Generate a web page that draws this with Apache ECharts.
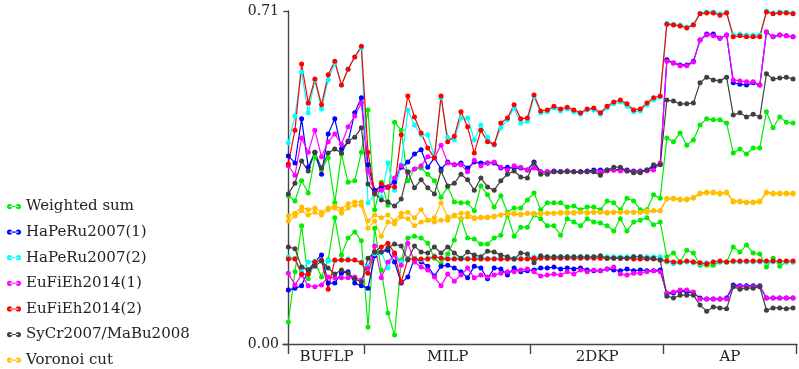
<!DOCTYPE html>
<html>
<head>
<meta charset="utf-8">
<script src="https://cdn.jsdelivr.net/npm/echarts@6/dist/echarts.min.js"></script>
<style>
  html, body { margin: 0; padding: 0; background: #fff; }
  #chart { width: 799px; height: 369px; }
</style>
</head>
<body>
<div id="chart"></div>
<script>
// instance groups and how many instances each holds
const groupNames = ['BUFLP', 'MILP', '2DKP', 'AP']
const groupSizes = [12, 25, 20, 20]
const yTicks = [0, 0.71]

// each method has two curves (upper / lower), 77 instances each
const weightedHi = [
  0.316,0.305,0.348,0.322,0.399,0.371,0.397,0.301,0.405,0.345,0.348,0.409,
  0.499,0.286,0.345,0.296,0.473,0.456,0.348,0.373,0.375,0.362,0.348,0.313,0.335,0.303,0.301,0.301,0.284,0.337,0.318,0.292,0.316,0.281,0.290,0.290,0.307,
  0.322,0.286,0.301,0.301,0.301,0.292,0.294,0.286,0.292,0.292,0.286,0.305,0.301,0.286,0.311,0.305,0.286,0.286,0.318,0.311,
  0.439,0.431,0.450,0.424,0.435,0.467,0.480,0.478,0.478,0.471,0.407,0.416,0.405,0.418,0.418,0.495,0.461,0.484,0.473,0.471
]
const weightedLo = [
  0.047,0.154,0.252,0.139,0.175,0.143,0.179,0.269,0.190,0.226,0.239,0.220,
  0.036,0.247,0.158,0.066,0.019,0.179,0.226,0.230,0.226,0.215,0.183,0.171,0.192,0.222,0.267,0.226,0.224,0.213,0.213,0.226,0.232,0.275,0.230,0.249,0.249,
  0.275,0.267,0.252,0.252,0.232,0.267,0.260,0.252,0.267,0.260,0.258,0.252,0.241,0.267,0.241,0.260,0.264,0.269,0.254,0.260,
  0.186,0.194,0.175,0.200,0.194,0.168,0.168,0.168,0.175,0.175,0.207,0.196,0.211,0.194,0.192,0.164,0.183,0.166,0.175,0.175
]
const hapeRu1Hi = [
  0.401,0.386,0.480,0.377,0.409,0.362,0.448,0.480,0.416,0.431,0.493,0.525,
  0.382,0.328,0.335,0.335,0.345,0.377,0.388,0.405,0.414,0.377,0.397,0.373,0.388,0.382,0.386,0.375,0.388,0.386,0.386,0.386,0.375,0.377,0.375,0.375,0.371,
  0.388,0.367,0.367,0.369,0.367,0.369,0.367,0.367,0.369,0.371,0.371,0.371,0.371,0.373,0.371,0.369,0.369,0.371,0.377,0.384,
  0.606,0.599,0.595,0.595,0.603,0.648,0.661,0.661,0.652,0.659,0.557,0.554,0.552,0.557,0.552,0.665,0.655,0.659,0.657,0.655
]
const hapeRu1Lo = [
  0.115,0.119,0.124,0.158,0.175,0.190,0.130,0.130,0.151,0.154,0.130,0.124,
  0.119,0.188,0.196,0.200,0.175,0.130,0.143,0.183,0.175,0.166,0.145,0.166,0.168,0.162,0.154,0.141,0.166,0.162,0.139,0.162,0.160,0.147,0.162,0.154,0.156,
  0.158,0.162,0.162,0.164,0.160,0.162,0.160,0.162,0.158,0.156,0.156,0.160,0.158,0.156,0.160,0.156,0.158,0.156,0.156,0.158,
  0.107,0.109,0.113,0.111,0.109,0.098,0.096,0.096,0.096,0.098,0.126,0.124,0.124,0.124,0.124,0.098,0.098,0.098,0.098,0.098
]
const hapeRu2Hi = [
  0.429,0.486,0.580,0.493,0.563,0.501,0.563,0.599,0.552,0.586,0.612,0.631,
  0.301,0.318,0.313,0.386,0.328,0.382,0.499,0.467,0.446,0.446,0.399,0.525,0.441,0.435,0.482,0.482,0.435,0.467,0.441,0.424,0.461,0.478,0.503,0.471,0.475,
  0.527,0.493,0.495,0.503,0.497,0.501,0.495,0.490,0.499,0.499,0.490,0.503,0.512,0.516,0.507,0.495,0.497,0.510,0.520,0.527,
  0.684,0.682,0.680,0.676,0.682,0.706,0.708,0.708,0.704,0.708,0.659,0.661,0.659,0.659,0.659,0.710,0.706,0.708,0.708,0.706
]
const hapeRu2Lo = [
  0.186,0.183,0.154,0.175,0.177,0.177,0.177,0.177,0.179,0.181,0.179,0.175,
  0.166,0.192,0.196,0.162,0.194,0.175,0.183,0.183,0.179,0.183,0.188,0.183,0.183,0.183,0.183,0.183,0.183,0.183,0.183,0.183,0.183,0.183,0.183,0.183,0.183,
  0.186,0.186,0.186,0.186,0.186,0.186,0.186,0.186,0.186,0.186,0.186,0.186,0.186,0.186,0.186,0.186,0.186,0.186,0.186,0.186,
  0.175,0.171,0.173,0.175,0.173,0.171,0.173,0.175,0.175,0.175,0.175,0.175,0.175,0.175,0.175,0.175,0.175,0.175,0.175,0.175
]
const euFiEh1Hi = [
  0.380,0.360,0.439,0.409,0.456,0.399,0.431,0.448,0.426,0.463,0.486,0.514,
  0.367,0.322,0.328,0.333,0.354,0.380,0.365,0.373,0.380,0.399,0.397,0.424,0.386,0.382,0.382,0.367,0.392,0.380,0.386,0.388,0.377,0.371,0.380,0.377,0.371,
  0.375,0.367,0.367,0.367,0.367,0.369,0.367,0.367,0.367,0.367,0.367,0.369,0.371,0.369,0.369,0.367,0.367,0.369,0.371,0.386,
  0.603,0.599,0.593,0.593,0.601,0.648,0.659,0.657,0.652,0.659,0.563,0.561,0.559,0.559,0.552,0.665,0.655,0.659,0.657,0.655
]
const euFiEh1Lo = [
  0.151,0.126,0.147,0.124,0.122,0.126,0.143,0.141,0.141,0.141,0.143,0.136,
  0.162,0.209,0.141,0.175,0.190,0.168,0.215,0.175,0.164,0.158,0.143,0.124,0.149,0.134,0.147,0.162,0.141,0.147,0.143,0.147,0.151,0.154,0.154,0.158,0.160,
  0.154,0.145,0.147,0.149,0.147,0.154,0.149,0.158,0.154,0.158,0.156,0.160,0.164,0.149,0.147,0.151,0.151,0.154,0.156,0.154,
  0.109,0.111,0.115,0.115,0.111,0.096,0.096,0.096,0.096,0.096,0.122,0.122,0.122,0.122,0.122,0.098,0.098,0.098,0.098,0.098
]
const euFiEh2Hi = [
  0.384,0.456,0.597,0.514,0.565,0.510,0.574,0.603,0.552,0.586,0.612,0.635,
  0.409,0.320,0.341,0.335,0.335,0.446,0.529,0.484,0.450,0.418,0.397,0.529,0.431,0.443,0.495,0.463,0.407,0.456,0.431,0.426,0.471,0.482,0.510,0.480,0.482,
  0.531,0.497,0.499,0.507,0.501,0.505,0.499,0.493,0.501,0.503,0.493,0.507,0.516,0.520,0.512,0.499,0.501,0.514,0.525,0.529,
  0.682,0.680,0.678,0.674,0.680,0.704,0.706,0.706,0.701,0.706,0.655,0.657,0.655,0.655,0.655,0.708,0.704,0.706,0.706,0.704
]
const euFiEh2Lo = [
  0.181,0.181,0.149,0.149,0.175,0.179,0.117,0.179,0.179,0.179,0.179,0.173,
  0.151,0.196,0.207,0.215,0.194,0.132,0.181,0.181,0.181,0.181,0.186,0.183,0.181,0.181,0.181,0.181,0.181,0.181,0.181,0.181,0.181,0.181,0.181,0.181,0.181,
  0.183,0.183,0.183,0.183,0.183,0.183,0.183,0.183,0.183,0.183,0.183,0.183,0.183,0.183,0.183,0.181,0.181,0.181,0.181,0.179,
  0.177,0.175,0.175,0.177,0.175,0.173,0.171,0.175,0.177,0.175,0.177,0.177,0.177,0.177,0.177,0.177,0.177,0.177,0.177,0.177
]
const syCrHi = [
  0.320,0.343,0.390,0.369,0.409,0.375,0.407,0.416,0.407,0.433,0.441,0.461,
  0.341,0.322,0.307,0.303,0.294,0.309,0.367,0.333,0.350,0.333,0.320,0.369,0.337,0.343,0.362,0.350,0.328,0.354,0.335,0.328,0.348,0.362,0.369,0.356,0.354,
  0.386,0.362,0.362,0.367,0.367,0.367,0.367,0.367,0.367,0.367,0.360,0.371,0.377,0.377,0.369,0.365,0.365,0.371,0.382,0.382,
  0.520,0.518,0.512,0.512,0.514,0.557,0.569,0.563,0.561,0.569,0.488,0.493,0.484,0.490,0.484,0.576,0.565,0.567,0.569,0.565
]
const syCrLo = [
  0.207,0.203,0.164,0.158,0.166,0.177,0.162,0.149,0.158,0.151,0.139,0.132,
  0.183,0.196,0.196,0.205,0.213,0.209,0.179,0.209,0.196,0.194,0.207,0.194,0.207,0.194,0.183,0.196,0.190,0.186,0.198,0.196,0.190,0.186,0.181,0.194,0.192,
  0.173,0.188,0.186,0.186,0.186,0.186,0.186,0.186,0.186,0.186,0.188,0.183,0.183,0.183,0.183,0.186,0.186,0.183,0.183,0.179,
  0.102,0.098,0.104,0.104,0.104,0.083,0.070,0.079,0.077,0.075,0.122,0.117,0.119,0.119,0.122,0.072,0.077,0.077,0.075,0.077
]
const voronoiHi = [
  0.273,0.279,0.292,0.286,0.290,0.281,0.290,0.294,0.288,0.299,0.303,0.303,
  0.262,0.275,0.269,0.275,0.262,0.279,0.281,0.269,0.286,0.264,0.269,0.301,0.271,0.275,0.279,0.279,0.269,0.271,0.271,0.273,0.275,0.279,0.279,0.277,0.279,
  0.279,0.279,0.279,0.279,0.281,0.281,0.281,0.281,0.281,0.281,0.281,0.281,0.281,0.281,0.281,0.281,0.281,0.284,0.284,0.284,
  0.311,0.311,0.309,0.309,0.313,0.322,0.324,0.324,0.322,0.324,0.305,0.305,0.303,0.303,0.305,0.324,0.322,0.322,0.322,0.322
]
const voronoiLo = [
  0.262,0.273,0.284,0.275,0.281,0.275,0.286,0.290,0.279,0.290,0.296,0.296,
  0.247,0.262,0.230,0.260,0.256,0.271,0.267,0.252,0.260,0.264,0.260,0.264,0.264,0.273,0.267,0.271,0.267,0.269,0.269,0.271,0.275,0.277,0.277,0.275,0.279,
  0.277,0.277,0.279,0.279,0.279,0.279,0.279,0.281,0.279,0.281,0.281,0.279,0.281,0.281,0.281,0.281,0.281,0.281,0.284,0.284,
  0.309,0.309,0.307,0.307,0.311,0.320,0.322,0.322,0.320,0.322,0.303,0.303,0.301,0.301,0.303,0.322,0.320,0.320,0.320,0.320
]

const methods = [
  { name: 'Weighted sum', color: '#00ee00', hi: weightedHi, lo: weightedLo },
  { name: 'HaPeRu2007(1)', color: '#0000ff', hi: hapeRu1Hi, lo: hapeRu1Lo },
  { name: 'HaPeRu2007(2)', color: '#00ffff', hi: hapeRu2Hi, lo: hapeRu2Lo },
  { name: 'EuFiEh2014(1)', color: '#ff00ff', hi: euFiEh1Hi, lo: euFiEh1Lo },
  { name: 'EuFiEh2014(2)', color: '#ff0000', hi: euFiEh2Hi, lo: euFiEh2Lo },
  { name: 'SyCr2007/MaBu2008', color: '#404040', hi: syCrHi, lo: syCrLo },
  { name: 'Voronoi cut', color: '#ffbf00', hi: voronoiHi, lo: voronoiLo },
]

// group boundaries (ticks) and centres (labels) on the instance axis
const total = groupSizes.reduce((a, b) => a + b, 0)
const boundaries = [0]
const centres = []
let start = 0
groupSizes.forEach(size => {
  const end = start + size - 0.5
  centres.push((boundaries[boundaries.length - 1] + end) / 2)
  boundaries.push(end)
  start += size
})

const serif = 'DejaVu Serif'
const pairIcon = 'path://M0,3a3,3 0 1,0 6,0a3,3 0 1,0 -6,0M10,3a3,3 0 1,0 6,0a3,3 0 1,0 -6,0M3,2.4L13,2.4L13,3.6L3,3.6Z'

const series = []
methods.forEach(m => {
  ;[m.hi, m.lo].forEach(values => {
    series.push({
      name: m.name,
      type: 'line',
      data: values.map((v, i) => [i, v]),
      symbol: 'circle',
      symbolSize: 5,
      showSymbol: true,
      color: m.color,
      lineStyle: { width: 1.2, color: m.color },
      itemStyle: { color: m.color },
    })
  })
})

const chart = echarts.init(document.getElementById('chart'))
chart.setOption({
  animation: false,
  legend: {
    data: methods.map(m => ({ name: m.name, icon: pairIcon })),
    orient: 'vertical',
    left: 7,
    top: 199,
    width: 260,
    height: 220,
    padding: 0,
    itemWidth: 14,
    itemHeight: 6,
    itemGap: 10.6,
    textStyle: { fontFamily: serif, fontSize: 15, color: '#222' },
  },
  grid: { left: 283, right: 2, top: 11, bottom: 25 },
  xAxis: {
    type: 'value',
    min: -0.8,
    max: total - 0.4,
    splitLine: { show: false },
    axisLine: { onZero: false, lineStyle: { color: '#444', width: 1.4 } },
    axisTick: { customValues: boundaries, length: 10, lineStyle: { color: '#444', width: 1.4 } },
    axisLabel: {
      customValues: centres,
      formatter: value => groupNames[centres.findIndex(c => Math.abs(c - value) < 1e-6)] ?? '',
      fontFamily: serif,
      fontSize: 15,
      color: '#222',
      margin: 6,
    },
  },
  yAxis: {
    type: 'value',
    min: 0,
    max: yTicks[1],
    interval: yTicks[1],
    splitLine: { show: false },
    axisLine: { show: true, lineStyle: { color: '#444', width: 1.4 } },
    axisTick: { show: true, length: 5, lineStyle: { color: '#444', width: 1.4 } },
    axisLabel: {
      formatter: value => value.toFixed(2),
      fontFamily: serif,
      fontSize: 14,
      color: '#222',
      margin: 4,
    },
  },
  series,
})
</script>
</body>
</html>
